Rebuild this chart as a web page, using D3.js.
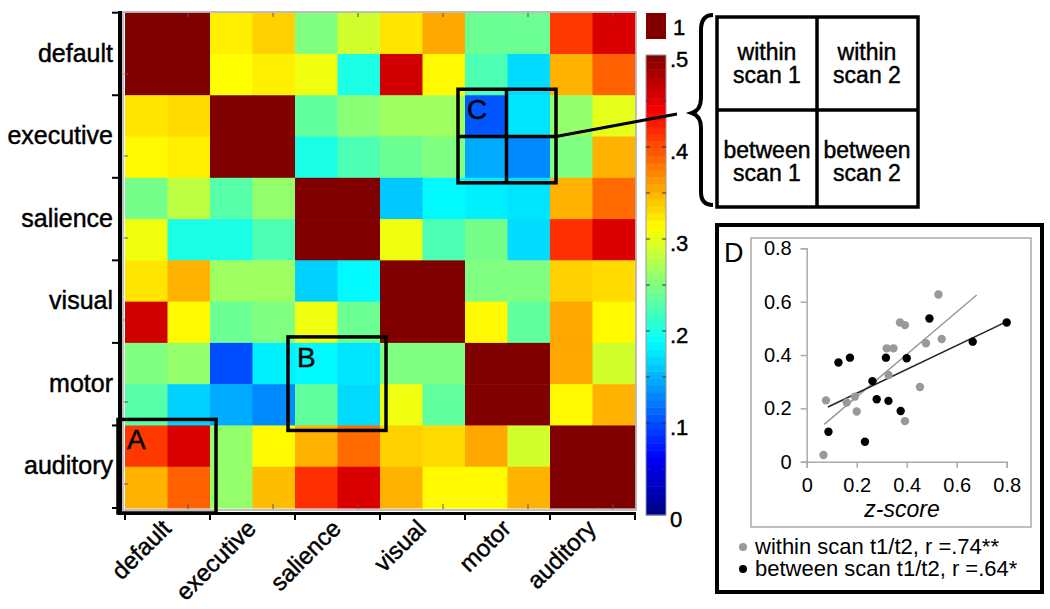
<!DOCTYPE html>
<html>
<head>
<meta charset="utf-8">
<script src="https://cdn.jsdelivr.net/npm/d3@7"></script>
<style>
  body { margin: 0; background: #fff; }
  text { font-family: "Liberation Sans", Arial, sans-serif; fill: #000; }
  .heavy { stroke: #000; stroke-width: 0.45px; }
</style>
</head>
<body>
<script>
// network names (two scans each) and the 12x12 correlation matrix
var networks = ["default", "executive", "salience", "visual", "motor", "auditory"];
var cells = d3.range(12);

var matrix = [
  [1, 1, .32, .335, .25, .29, .325, .355, .24, .24, .41, .455],
  [1, 1, .3125, .32, .305, .20, .46, .315, .225, .17, .35, .39],
  [.325, .33, 1, 1, .235, .255, .265, .265, .105, .175, .26, .30],
  [.315, .32, 1, 1, .20, .225, .24, .25, .146, .13, .25, .35],
  [.245, .28, .23, .26, 1, 1, .16, .185, .18, .175, .35, .385],
  [.305, .20, .20, .225, 1, 1, .305, .225, .245, .17, .415, .455],
  [.325, .35, .265, .265, .165, .185, 1, 1, .25, .25, .335, .33],
  [.46, .315, .24, .25, .305, .24, 1, 1, .315, .235, .355, .315],
  [.25, .26, .10, .18, .185, .175, .25, .25, 1, 1, .355, .29],
  [.23, .165, .146, .13, .235, .17, .305, .235, 1, 1, .315, .35],
  [.41, .455, .26, .315, .35, .385, .335, .33, .355, .29, 1, 1],
  [.35, .39, .26, .345, .415, .455, .35, .315, .315, .35, 1, 1]
];

// colorbar ticks
var cbTicks = [0, .1, .2, .3, .4, .5];
var cbLabels = ["0", ".1", ".2", ".3", ".4", ".5"];

// highlighted boxes: label, first col, first row (2x2 cells each)
var boxes = [
  {label: "A", col: 0, row: 10},
  {label: "B", col: 4, row: 8},
  {label: "C", col: 8, row: 2}
];

var legendCells = [
  ["within", "scan 1"], ["within", "scan 2"],
  ["between", "scan 1"], ["between", "scan 2"]
];

// panel D: z-score vs. reliability
var withinX = [.067, .077, .16, .193, .20, .32, .347, .327, .373, .393, .393, .453, .477, .527, .54];
var withinY = [.025, .23, .222, .244, .188, .425, .425, .325, .522, .512, .152, .28, .444, .627, .46];
var betweenX = [.127, .173, .087, .233, .263, .28, .317, .327, .376, .40, .491, .664, .80];
var betweenY = [.372, .39, .112, .075, .302, .234, .39, .228, .19, .388, .537, .45, .522];
var withinFit = [[.07, .14], [.68, .625]];
var betweenFit = [[.085, .205], [.80, .525]];
var scatterTicks = [0, .2, .4, .6, .8];
var legendD = [
  {text: "within scan t1/t2, r =.74**", color: "#999"},
  {text: "between scan t1/t2, r =.64*", color: "#000"}
];

var W = 1050, H = 609;
var svg = d3.select("body").append("svg")
    .attr("width", W)
    .attr("height", H);

// jet colormap over 0..0.5, anything above is dark red
var jet = d3.scaleLinear()
    .domain([0, .0625, .1875, .3125, .4375, .5])
    .range(["#000080", "#0000ff", "#00ffff", "#ffff00", "#ff0000", "#800000"])
    .clamp(true);

var x = d3.scaleBand().domain(cells).range([125, 635]);
var y = d3.scaleBand().domain(cells).range([12.7, 508]);
var xc = d3.scaleBand().domain(networks).range([125, 635]);
var yc = d3.scaleBand().domain(networks).range([12.7, 508]);

var heat = svg.append("g");
matrix.forEach(function(row, i) {
  heat.selectAll(null)
      .data(row)
      .enter().append("rect")
      .attr("x", function(d, j) { return x(j); })
      .attr("y", y(i))
      .attr("width", x.bandwidth() + 0.5)
      .attr("height", y.bandwidth() + 0.5)
      .attr("fill", function(d) { return jet(d); });
});

heat.append("rect")
    .attr("x", 123).attr("y", 12).attr("width", 513).attr("height", 498)
    .attr("fill", "none").attr("stroke", "#aaa").attr("stroke-width", 1.5);

// small inner ticks like the original figure
var minor = d3.range(6);
heat.selectAll(".mt")
    .data(minor)
    .enter().append("line")
    .attr("x1", function(k) { return 188 + 85 * k; })
    .attr("x2", function(k) { return 188 + 85 * k; })
    .attr("y1", 13).attr("y2", 17)
    .attr("stroke", "#555").attr("stroke-width", 1);
heat.selectAll(".mb")
    .data(minor)
    .enter().append("line")
    .attr("x1", function(k) { return 188 + 85 * k; })
    .attr("x2", function(k) { return 188 + 85 * k; })
    .attr("y1", 504).attr("y2", 509)
    .attr("stroke", "#555").attr("stroke-width", 1);
heat.selectAll(".ml")
    .data(minor)
    .enter().append("line")
    .attr("x1", 124).attr("x2", 128)
    .attr("y1", function(k) { return 74 + 82 * k; })
    .attr("y2", function(k) { return 74 + 82 * k; })
    .attr("stroke", "#555").attr("stroke-width", 1);

// boxes A, B, C
boxes.forEach(function(b) {
  var x0 = x(b.col) - 7, x1 = x(b.col + 1) + x.bandwidth() + 6;
  var y0 = y(b.row) - 6, y1 = y(b.row + 1) + y.bandwidth() + 5;
  svg.append("rect")
      .attr("x", x0).attr("y", y0)
      .attr("width", x1 - x0).attr("height", y1 - y0)
      .attr("fill", "none").attr("stroke", "#000").attr("stroke-width", 3.5);
  svg.append("text")
      .attr("class", "heavy")
      .attr("x", x0 + 9).attr("y", y0 + 30)
      .style("font-size", "28px")
      .text(b.label);
  if (b.label == "C") {
    svg.append("line")
        .attr("x1", x(b.col + 1) - 1).attr("x2", x(b.col + 1) - 1)
        .attr("y1", y0).attr("y2", y1)
        .attr("stroke", "#000").attr("stroke-width", 3.5);
    svg.append("line")
        .attr("x1", x0).attr("x2", x1)
        .attr("y1", y(b.row + 1)).attr("y2", y(b.row + 1))
        .attr("stroke", "#000").attr("stroke-width", 3.5);
  }
});

// axes
var bounds = d3.range(7);
svg.append("line")
    .attr("x1", 120).attr("x2", 120).attr("y1", 11).attr("y2", 515)
    .attr("stroke", "#000").attr("stroke-width", 4);
svg.append("line")
    .attr("x1", 118).attr("x2", 636).attr("y1", 513.5).attr("y2", 513.5)
    .attr("stroke", "#000").attr("stroke-width", 3);
svg.selectAll(".yt")
    .data(bounds)
    .enter().append("line")
    .attr("x1", 112).attr("x2", 120)
    .attr("y1", function(k) { return 12.7 + k * yc.bandwidth(); })
    .attr("y2", function(k) { return 12.7 + k * yc.bandwidth(); })
    .attr("stroke", "#000").attr("stroke-width", 2);
svg.selectAll(".xt")
    .data(bounds)
    .enter().append("line")
    .attr("x1", function(k) { return 125 + k * xc.bandwidth(); })
    .attr("x2", function(k) { return 125 + k * xc.bandwidth(); })
    .attr("y1", 513).attr("y2", 520)
    .attr("stroke", "#000").attr("stroke-width", 2);

svg.selectAll(".ylab")
    .data(networks)
    .enter().append("text")
    .attr("class", "heavy")
    .attr("x", 113)
    .attr("y", function(d) { return yc(d) + yc.bandwidth() / 2 - 1; })
    .attr("dy", "0.35em")
    .attr("text-anchor", "end")
    .style("font-size", "25px")
    .text(function(d) { return d; });

svg.selectAll(".xlab")
    .data(networks)
    .enter().append("text")
    .attr("class", "heavy")
    .attr("transform", function(d) {
      return "translate(" + (xc(d) + xc.bandwidth() / 2 - 1) + ",524) rotate(-45)";
    })
    .attr("dy", "0.35em")
    .attr("text-anchor", "end")
    .style("font-size", "24px")
    .text(function(d) { return d; });

// colorbar
var cb = d3.scaleLinear().domain([0, .5]).range([515, 55]);
var steps = d3.range(64).map(function(k) { return k * .5 / 64; });
svg.append("g").selectAll("rect")
    .data(steps)
    .enter().append("rect")
    .attr("x", 646).attr("width", 20)
    .attr("y", function(d) { return cb(d + .5 / 64); })
    .attr("height", cb(0) - cb(.5 / 64) + 0.5)
    .attr("fill", function(d) { return jet(d + .25 / 64); });
svg.append("rect")
    .attr("x", 646).attr("y", 55).attr("width", 20).attr("height", 460)
    .attr("fill", "none").attr("stroke", "#999").attr("stroke-width", 1);
svg.append("rect")
    .attr("x", 646).attr("y", 13).attr("width", 20).attr("height", 26)
    .attr("fill", jet(1));
var dashes = d3.range(1, 10).map(function(k) { return k * .05; });
svg.selectAll(".cbd")
    .data(dashes)
    .enter().append("path")
    .attr("d", function(d) {
      return "M646," + cb(d) + "h4M666," + cb(d) + "h-4";
    })
    .attr("stroke", "#333").attr("stroke-width", 1);
svg.selectAll(".cbl")
    .data(cbTicks)
    .enter().append("text")
    .attr("class", "heavy")
    .attr("x", 670)
    .attr("y", function(d) { return cb(d) + 4; })
    .attr("dy", "0.35em")
    .style("font-size", "22px")
    .text(function(d, i) { return cbLabels[i]; });
svg.append("text")
    .attr("class", "heavy")
    .attr("x", 673).attr("y", 27).attr("dy", "0.35em")
    .style("font-size", "22px")
    .text("1");

// line from C to the brace
svg.append("line")
    .attr("x1", x(9) + x.bandwidth() + 6).attr("y1", y(3))
    .attr("x2", 677).attr("y2", 114)
    .attr("stroke", "#000").attr("stroke-width", 3);

// curly brace
svg.append("path")
    .attr("d", "M713,15 Q701,15 701,30 L701,98 Q701,110 692,113 Q701,116 701,128 L701,192 Q701,205 713,205")
    .attr("fill", "none").attr("stroke", "#000").attr("stroke-width", 4);

// legend grid
var lg = svg.append("g");
lg.append("rect")
    .attr("x", 717).attr("y", 17).attr("width", 201).attr("height", 190)
    .attr("fill", "#fff").attr("stroke", "#000").attr("stroke-width", 3.5);
lg.append("line").attr("x1", 817).attr("x2", 817).attr("y1", 17).attr("y2", 207)
    .attr("stroke", "#000").attr("stroke-width", 3.5);
lg.append("line").attr("x1", 717).attr("x2", 918).attr("y1", 110).attr("y2", 110)
    .attr("stroke", "#000").attr("stroke-width", 3.5);
lg.selectAll("text")
    .data(legendCells)
    .enter().append("text")
    .attr("class", "heavy")
    .attr("text-anchor", "middle")
    .attr("x", function(d, i) { return i % 2 ? 867 : 767; })
    .attr("y", function(d, i) { return i < 2 ? 60 : 158; })
    .style("font-size", "23px")
    .each(function(d) {
      var t = d3.select(this);
      t.append("tspan").attr("x", t.attr("x")).text(d[0]);
      t.append("tspan").attr("x", t.attr("x")).attr("dy", 23).text(d[1]);
    });

// panel D
var pd = svg.append("g");
pd.append("rect")
    .attr("x", 717).attr("y", 225).attr("width", 325).attr("height", 367)
    .attr("fill", "#fff").attr("stroke", "#000").attr("stroke-width", 4);
pd.append("rect")
    .attr("x", 751).attr("y", 238).attr("width", 280).attr("height", 289)
    .attr("fill", "none").attr("stroke", "#aaa").attr("stroke-width", 1.5);

var sx = d3.scaleLinear().domain([0, .8]).range([806.7, 1006.7]);
var sy = d3.scaleLinear().domain([0, .8]).range([461.7, 248.3]);
var fmt = function(d) { return d == 0 ? "0" : d3.format(".1f")(d); };

var ax = pd.append("g")
    .attr("transform", "translate(0," + sy(0) + ")")
    .call(d3.axisBottom(sx).tickValues(scatterTicks).tickSize(6).tickPadding(10).tickFormat(fmt));
var ay = pd.append("g")
    .attr("transform", "translate(" + sx(0) + ",0)")
    .call(d3.axisLeft(sy).tickValues(scatterTicks).tickSize(6).tickPadding(9).tickFormat(fmt));
[ax, ay].forEach(function(a) {
  a.select(".domain").attr("stroke", "#aaa").attr("stroke-width", 1.5);
  a.selectAll(".tick line").attr("stroke", "#aaa").attr("stroke-width", 1.5);
  a.selectAll(".tick text")
      .style("font-family", "Liberation Sans, Arial, sans-serif")
      .style("font-size", "20px").attr("fill", "#000");
});

pd.append("line")
    .attr("x1", sx(withinFit[0][0])).attr("y1", sy(withinFit[0][1]))
    .attr("x2", sx(withinFit[1][0])).attr("y2", sy(withinFit[1][1]))
    .attr("stroke", "#999").attr("stroke-width", 1.5);
pd.append("line")
    .attr("x1", sx(betweenFit[0][0])).attr("y1", sy(betweenFit[0][1]))
    .attr("x2", sx(betweenFit[1][0])).attr("y2", sy(betweenFit[1][1]))
    .attr("stroke", "#222").attr("stroke-width", 1.5);

pd.selectAll(".wpt")
    .data(withinX)
    .enter().append("circle")
    .attr("cx", function(d) { return sx(d); })
    .attr("cy", function(d, i) { return sy(withinY[i]); })
    .attr("r", 4.2)
    .attr("fill", "#999");
pd.selectAll(".bpt")
    .data(betweenX)
    .enter().append("circle")
    .attr("cx", function(d) { return sx(d); })
    .attr("cy", function(d, i) { return sy(betweenY[i]); })
    .attr("r", 4.2)
    .attr("fill", "#000");

pd.append("text")
    .attr("x", 724).attr("y", 262)
    .style("font-size", "27px")
    .text("D");
pd.append("text")
    .attr("x", 902).attr("y", 517)
    .attr("text-anchor", "middle")
    .style("font-size", "23px").style("font-style", "italic")
    .text("z-score");

var ld = pd.selectAll(".ld")
    .data(legendD)
    .enter().append("g")
    .attr("transform", function(d, i) { return "translate(0," + (i * 22) + ")"; });
ld.append("circle")
    .attr("cx", 743).attr("cy", 547).attr("r", 4)
    .attr("fill", function(d) { return d.color; });
ld.append("text")
    .attr("x", 755).attr("y", 554)
    .style("font-size", "22px")
    .text(function(d) { return d.text; });
</script>
</body>
</html>
